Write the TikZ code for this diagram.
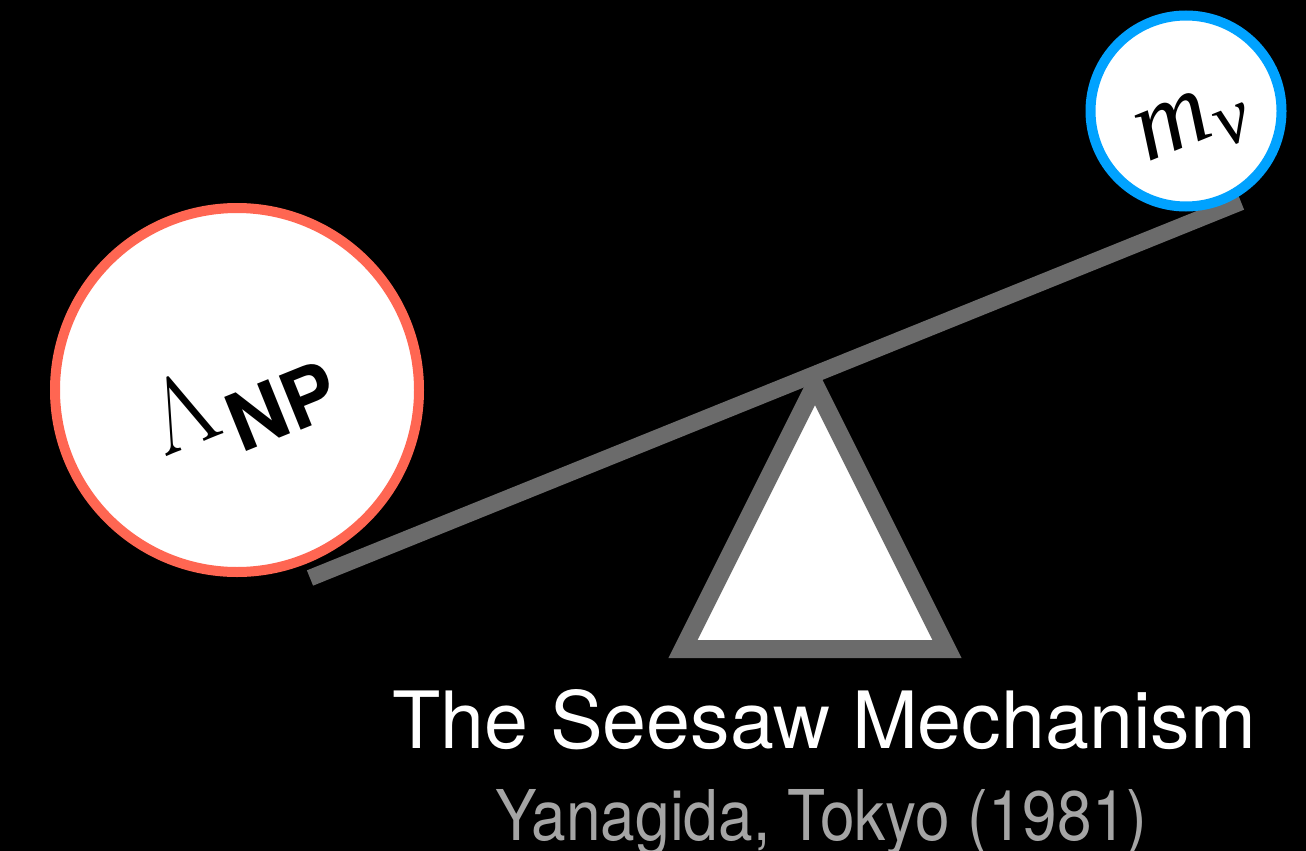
\documentclass[tikz,border=0pt]{standalone}
\usepackage{fontspec}
\setsansfont{TeX Gyre Heros}
\newfontfamily\lmroman{Latin Modern Roman}
\newfontfamily\libserif{Liberation Serif}
\definecolor{coral}{RGB}{255,102,82}
\definecolor{skyblue}{RGB}{0,162,255}
\definecolor{beamgray}{RGB}{107,107,107}
\definecolor{subgray}{RGB}{165,165,165}
\tikzset{
  beamline/.style={draw=beamgray, line width=16.5pt, line cap=butt},
  fulcrum/.style={draw=beamgray, fill=white, line width=18pt, line join=miter},
  ball/.style={circle, fill=white, line width=10pt, inner sep=0pt},
  balllabel/.style={rotate=22, inner sep=0pt, text=black},
}
\begin{document}
\begin{tikzpicture}[x=1pt,y=-1pt]
\fill[black] (0,0) rectangle (1306,851);
\useasboundingbox (0,0) rectangle (1306,851);
% beam
\coordinate (bl) at (310,578);
\coordinate (br) at (1241,202);
\draw[beamline] (bl) -- (br);
% fulcrum
\coordinate (apex) at (815,385);
\coordinate (fl) at (683,649);
\coordinate (fr) at (947,649);
\draw[fulcrum] (apex) -- (fl) -- (fr) -- cycle;
% balls
\node[ball, draw=coral, minimum size=364pt] (np) at (237,390) {};
\node[ball, draw=skyblue, minimum size=191pt] (nu) at (1186,111) {};
\node[balllabel] (nplabel) at (241,401)
  {{\lmroman\fontsize{104}{104}\selectfont Λ}\hspace{6pt}\raisebox{-25pt}{\sffamily\bfseries\fontsize{80}{80}\selectfont NP}};
\node[balllabel] (nulabel) at (1193,127)
  {{\libserif\itshape\fontsize{104}{104}\selectfont m}\hspace{2pt}\raisebox{-16pt}{\libserif\itshape\fontsize{78}{78}\selectfont ν}};
% titles
\node[anchor=base, text=white, inner sep=0pt, font=\sffamily\fontsize{79}{79}\selectfont] (title) at (824,748) {The Seesaw Mechanism};
\node[anchor=base, text=subgray, inner sep=0pt, font=\sffamily\fontsize{70}{70}\selectfont] (sub) at (821.5,840) {\scalebox{0.889}[1]{Yanagida, Tokyo (1981)}};
\end{tikzpicture}
\end{document}
